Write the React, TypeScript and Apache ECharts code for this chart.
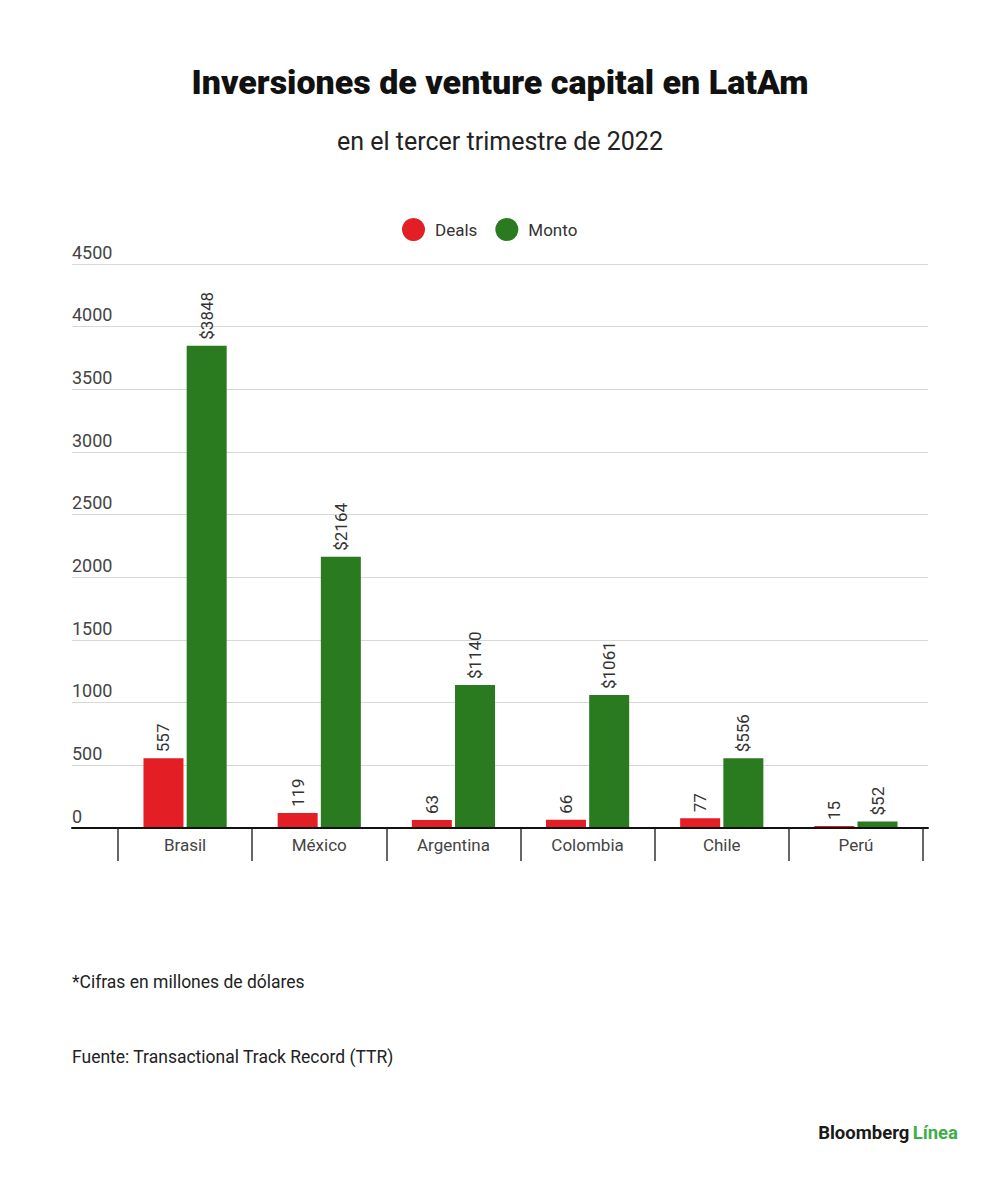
import React, { useEffect, useRef } from "react";
import * as echarts from "echarts";

const categories = ["Brasil", "México", "Argentina", "Colombia", "Chile", "Perú"];
const deals = [557, 119, 63, 66, 77, 15];
const monto = [3848, 2164, 1140, 1061, 556, 52];
const seriesNames = ["Deals", "Monto"];
const titleText = "Inversiones de venture capital en LatAm";
const subtitleText = "en el tercer trimestre de 2022";
const noteText = "*Cifras en millones de dólares";
const sourceText = "Fuente: Transactional Track Record (TTR)";

const RED = "#e31e25";
const GREEN = "#2a7a1f";
const FONT = "Roboto, 'Liberation Sans', sans-serif";

export default function App() {
  const ref = useRef<HTMLDivElement>(null);
  useEffect(() => {
    if (!ref.current) return;
    const chart = echarts.init(ref.current, undefined, { renderer: "svg" });
    const labelBase = {
      show: true,
      position: "top" as const,
      rotate: 90,
      align: "left" as const,
      verticalAlign: "middle" as const,
      distance: 6,
      fontSize: 17,
      color: "#333",
      fontFamily: FONT,
    };
    chart.setOption({
      animation: false,
      backgroundColor: "#ffffff",
      textStyle: { fontFamily: FONT },
      title: [
        {
          text: titleText,
          left: "center",
          top: 60,
          textStyle: { fontSize: 34, fontWeight: 900, color: "#111", fontFamily: FONT },
        },
        {
          text: subtitleText,
          left: "center",
          top: 124,
          textStyle: { fontSize: 25, fontWeight: 400, color: "#222", fontFamily: FONT },
        },
      ],
      legend: {
        data: seriesNames,
        left: 397,
        top: 213,
        icon: "circle",
        itemWidth: 23,
        itemHeight: 23,
        itemGap: 18,
        textStyle: { fontSize: 17, color: "#333", fontFamily: FONT, padding: [0, 0, 0, 5] },
      },
      grid: [
        { left: 72, right: 72, top: 264, bottom: 349 },
        { left: 118, right: 77, top: 264, bottom: 349 },
      ],
      xAxis: [
        {
          type: "category",
          gridIndex: 0,
          data: [""],
          axisLine: { show: true, lineStyle: { color: "#111", width: 2 } },
          axisTick: { show: false },
          axisLabel: { show: false },
          z: 5,
        },
        {
          type: "category",
          gridIndex: 1,
          data: categories,
          axisLine: { show: false },
          axisTick: { show: true, length: 33, lineStyle: { color: "#333", width: 1.5 } },
          axisLabel: { fontSize: 17, color: "#444", margin: 8, interval: 0, fontFamily: FONT },
        },
      ],
      yAxis: [
        {
          type: "value",
          gridIndex: 0,
          min: 0,
          max: 4500,
          interval: 500,
          axisLine: { show: false },
          axisTick: { show: false },
          splitLine: { lineStyle: { color: "#d8d8d8", width: 1 } },
          axisLabel: {
            inside: true,
            margin: 0,
            align: "left",
            verticalAlign: "bottom",
            padding: [0, 0, 3, 0],
            fontSize: 18,
            color: "#444",
            fontFamily: FONT,
            formatter: (v: number) => String(v),
          },
        },
        {
          type: "value",
          gridIndex: 1,
          min: 0,
          max: 4500,
          interval: 500,
          show: false,
          splitLine: { show: false },
        },
      ],
      series: [
        {
          name: seriesNames[0],
          type: "bar",
          xAxisIndex: 1,
          yAxisIndex: 1,
          data: deals,
          barWidth: 40,
          barGap: "8%",
          itemStyle: { color: RED },
          label: { ...labelBase },
        },
        {
          name: seriesNames[1],
          type: "bar",
          xAxisIndex: 1,
          yAxisIndex: 1,
          data: monto,
          barWidth: 40,
          barGap: "8%",
          itemStyle: { color: GREEN },
          label: { ...labelBase, formatter: (p: any) => "$" + p.value },
        },
      ],
      graphic: [
        {
          type: "text",
          left: 72,
          top: 973,
          style: { text: noteText, fontSize: 17.5, fill: "#222", fontFamily: FONT },
        },
        {
          type: "text",
          left: 72,
          top: 1048,
          style: { text: sourceText, fontSize: 17.5, fill: "#222", fontFamily: FONT },
        },
        {
          type: "text",
          right: 42,
          top: 1123,
          style: {
            text: "{a|Bloomberg} {b|Línea}",
            rich: {
              a: { fontSize: 18.5, fontWeight: 700, fill: "#1a1a1a", fontFamily: FONT },
              b: { fontSize: 18.5, fontWeight: 700, fill: "#3fae49", fontFamily: FONT },
            },
          },
        },
      ],
    });
    return () => chart.dispose();
  }, []);
  return (
    <div
      ref={ref}
      style={{ position: "fixed", left: 0, top: 0, width: 1000, height: 1177, background: "#fff" }}
    />
  );
}
